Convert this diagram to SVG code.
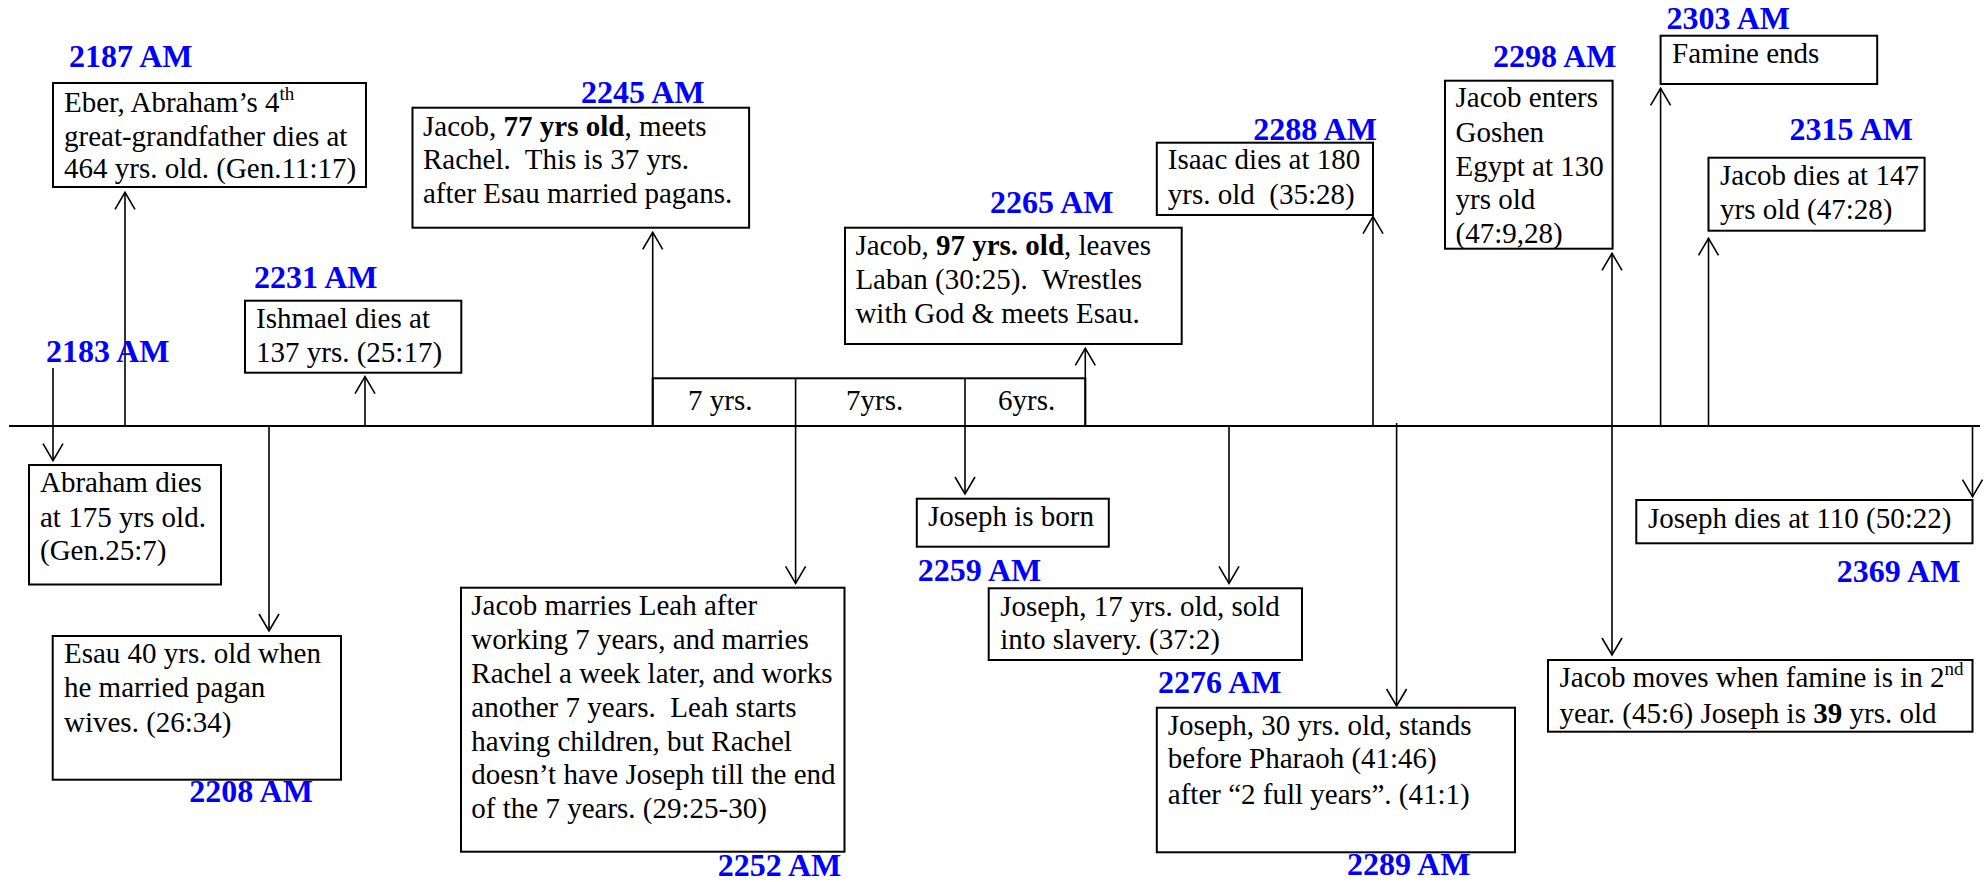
<svg xmlns="http://www.w3.org/2000/svg" width="1986" height="882" viewBox="0 0 1986 882">
<style>
.box{fill:#fff;stroke:#000;stroke-width:2}
.t{font-family:"Liberation Serif","Times New Roman",serif;font-size:29px;fill:#000;white-space:pre}
.yr{font-family:"Liberation Serif","Times New Roman",serif;font-size:32px;font-weight:bold;fill:#0000ff;white-space:pre}
.c{stroke:#000;stroke-width:1.6;fill:none;marker-end:url(#ah)}
.ln{stroke:#000;stroke-width:2;fill:none}
.b{font-weight:bold}
.sup{font-size:19px}
</style>
<defs>
<marker id="ah" viewBox="0 0 20 20" refX="17" refY="10" markerWidth="20" markerHeight="20" markerUnits="userSpaceOnUse" orient="auto" overflow="visible">
<path d="M0,0 L17,10 L0,20" fill="none" stroke="#000" stroke-width="1.6"/>
</marker>
</defs>
<rect width="1986" height="882" fill="#fff"/>

<g id="connectors">
<line class="ln" x1="9" y1="426" x2="1980" y2="426"/>
<line class="c" x1="53" y1="368" x2="53" y2="460.7"/>
<line class="c" x1="125" y1="427" x2="125" y2="192.3"/>
<line class="c" x1="365" y1="426" x2="365" y2="376.7"/>
<line class="c" x1="269" y1="426" x2="269" y2="631"/>
<line class="c" x1="652.7" y1="426" x2="652.7" y2="232.3"/>
<line class="c" x1="795.6" y1="378.3" x2="795.6" y2="583.3"/>
<line class="c" x1="965" y1="378.3" x2="965" y2="494"/>
<line class="c" x1="1085.3" y1="426" x2="1085.3" y2="348.3"/>
<line class="c" x1="1229" y1="426" x2="1229" y2="583.3"/>
<line class="c" x1="1373" y1="427" x2="1373" y2="216.7"/>
<line class="c" x1="1396.6" y1="423" x2="1396.6" y2="706"/>
<line class="c" x1="1612" y1="426" x2="1612" y2="253.3"/>
<line class="c" x1="1612" y1="426" x2="1612" y2="655"/>
<line class="c" x1="1660.6" y1="426" x2="1660.6" y2="88.3"/>
<line class="c" x1="1708.5" y1="426" x2="1708.5" y2="238.3"/>
<line class="c" x1="1972.5" y1="427" x2="1972.5" y2="496.7"/>
</g>

<g id="years">
<rect x="652.7" y="378.3" width="432.6" height="47.7" class="ln"/>
<text class="t" x="688" y="410">7 yrs.</text>
<text class="t" x="846" y="410">7yrs.</text>
<text class="t" x="998" y="410">6yrs.</text>
</g>

<g id="n2183">
<text class="yr" x="46" y="362">2183 AM</text>
<rect class="box" x="29" y="465" width="192" height="119.5"/>
<text class="t" x="40" y="491.7">Abraham dies</text>
<text class="t" x="40" y="526.7">at 175 yrs old.</text>
<text class="t" x="40" y="560">(Gen.25:7)</text>
</g>

<g id="n2187">
<text class="yr" x="69" y="67">2187 AM</text>
<rect class="box" x="53" y="83" width="313" height="104"/>
<text class="t" x="64" y="111.7">Eber, Abraham’s 4<tspan class="sup" dy="-12">th</tspan></text>
<text class="t" x="64" y="146">great-grandfather dies at</text>
<text class="t" x="64" y="178.3">464 yrs. old. (Gen.11:17)</text>
</g>

<g id="n2231">
<text class="yr" x="254" y="288">2231 AM</text>
<rect class="box" x="245" y="300.7" width="216.3" height="72"/>
<text class="t" x="256" y="328.3">Ishmael dies at</text>
<text class="t" x="256" y="362.3">137 yrs. (25:17)</text>
</g>

<g id="n2208">
<rect class="box" x="52.7" y="636" width="288.3" height="143.7"/>
<text class="t" x="64" y="663.3">Esau 40 yrs. old when</text>
<text class="t" x="64" y="696.7">he married pagan</text>
<text class="t" x="64" y="731.7">wives. (26:34)</text>
<text class="yr" x="189.3" y="801.7">2208 AM</text>
</g>

<g id="n2245">
<text class="yr" x="581" y="103.3">2245 AM</text>
<rect class="box" x="412.5" y="107.7" width="336.6" height="120"/>
<text class="t" x="423" y="136">Jacob, <tspan class="b">77 yrs old</tspan>, meets</text>
<text class="t" x="423" y="169.3">Rachel.  This is 37 yrs.</text>
<text class="t" x="423" y="203.3">after Esau married pagans.</text>
</g>

<g id="n2252">
<rect class="box" x="461" y="587.7" width="383.5" height="264"/>
<text class="t" x="471.3" y="615">Jacob marries Leah after</text>
<text class="t" x="471.3" y="649.3">working 7 years, and marries</text>
<text class="t" x="471.3" y="683.3">Rachel a week later, and works</text>
<text class="t" x="471.3" y="716.7">another 7 years.  Leah starts</text>
<text class="t" x="471.3" y="750.7">having children, but Rachel</text>
<text class="t" x="471.3" y="784.3">doesn’t have Joseph till the end</text>
<text class="t" x="471.3" y="818.3">of the 7 years. (29:25-30)</text>
<text class="yr" x="717.7" y="876">2252 AM</text>
</g>

<g id="n2259">
<rect class="box" x="916.8" y="498.7" width="192" height="48"/>
<text class="t" x="928" y="526">Joseph is born</text>
<text class="yr" x="917.7" y="581">2259 AM</text>
</g>

<g id="n2265">
<text class="yr" x="990" y="213.3">2265 AM</text>
<rect class="box" x="845" y="227.7" width="336.7" height="116.3"/>
<text class="t" x="855.4" y="255">Jacob, <tspan class="b">97 yrs. old</tspan>, leaves</text>
<text class="t" x="855.4" y="289.3">Laban (30:25).  Wrestles</text>
<text class="t" x="855.4" y="322.7">with God &amp; meets Esau.</text>
</g>

<g id="n2276">
<rect class="box" x="988.7" y="588.3" width="313.3" height="71.7"/>
<text class="t" x="1000.3" y="615.7">Joseph, 17 yrs. old, sold</text>
<text class="t" x="1000.3" y="649.3">into slavery. (37:2)</text>
<text class="yr" x="1158" y="692.7">2276 AM</text>
</g>

<g id="n2288">
<text class="yr" x="1253.3" y="140">2288 AM</text>
<rect class="box" x="1156.8" y="142.7" width="216.2" height="72.3"/>
<text class="t" x="1167.8" y="169.3">Isaac dies at 180</text>
<text class="t" x="1167.8" y="204">yrs. old  (35:28)</text>
</g>

<g id="n2289">
<rect class="box" x="1156.8" y="707.7" width="358.2" height="144.6"/>
<text class="t" x="1167.8" y="735">Joseph, 30 yrs. old, stands</text>
<text class="t" x="1167.8" y="768.3">before Pharaoh (41:46)</text>
<text class="t" x="1167.8" y="804">after “2 full years”. (41:1)</text>
<text class="yr" x="1347" y="875">2289 AM</text>
</g>

<g id="n2298">
<text class="yr" x="1493" y="66.7">2298 AM</text>
<rect class="box" x="1445" y="80.7" width="167.6" height="168"/>
<text class="t" x="1455.5" y="107.3">Jacob enters</text>
<text class="t" x="1455.5" y="141.7">Goshen</text>
<text class="t" x="1455.5" y="176">Egypt at 130</text>
<text class="t" x="1455.5" y="209.3">yrs old</text>
<text class="t" x="1455.5" y="242.7">(47:9,28)</text>
</g>

<g id="n2303">
<text class="yr" x="1666.4" y="29.3">2303 AM</text>
<rect class="box" x="1660.6" y="35.7" width="216.6" height="48.3"/>
<text class="t" x="1672" y="63.3">Famine ends</text>
</g>

<g id="n2315">
<text class="yr" x="1789.4" y="140">2315 AM</text>
<rect class="box" x="1708.5" y="157.7" width="216.1" height="73"/>
<text class="t" x="1720" y="185">Jacob dies at 147</text>
<text class="t" x="1720" y="219.3">yrs old (47:28)</text>
</g>

<g id="nJacobMoves">
<rect class="box" x="1548" y="660" width="424.5" height="71.7"/>
<text class="t" x="1559.5" y="687.3">Jacob moves when famine is in 2<tspan class="sup" dy="-12">nd</tspan></text>
<text class="t" x="1559.5" y="722.7">year. (45:6) Joseph is <tspan class="b">39</tspan> yrs. old</text>
</g>

<g id="n2369">
<rect class="box" x="1636.3" y="500" width="336.2" height="43.3"/>
<text class="t" x="1648" y="528.3">Joseph dies at 110 (50:22)</text>
<text class="yr" x="1836.8" y="581.7">2369 AM</text>
</g>
</svg>
